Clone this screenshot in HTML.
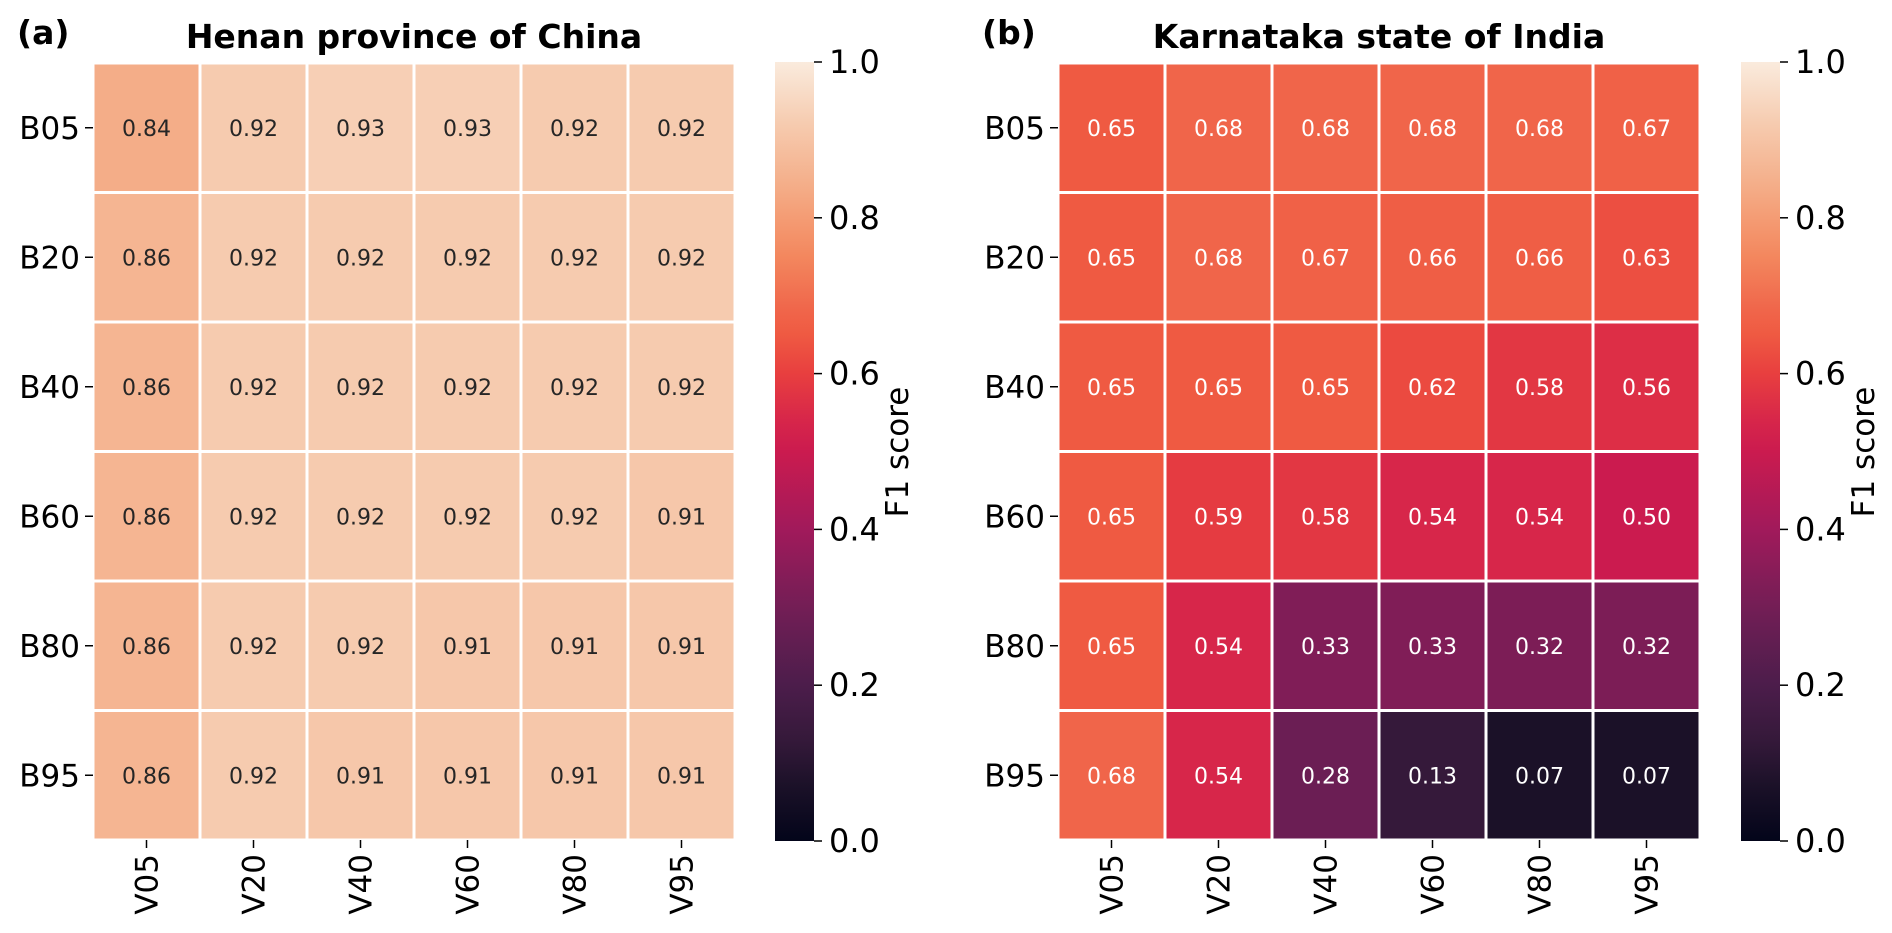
<!DOCTYPE html>
<html><head><meta charset="utf-8"><style>
html,body{margin:0;padding:0;background:#fff;}
svg{display:block;font-family:"DejaVu Sans","Liberation Sans",sans-serif;}
</style></head><body>
<svg id="fig" width="1892" height="933" viewBox="0 0 1892 933" xmlns="http://www.w3.org/2000/svg">
<defs>
<linearGradient id="rocket" x1="0" y1="1" x2="0" y2="0"></linearGradient>
</defs>
</svg>
<script>
const rows = ['B05','B20','B40','B60','B80','B95'];
const cols = ['V05','V20','V40','V60','V80','V95'];
const henanValues = [
 [0.84,0.92,0.93,0.93,0.92,0.92],
 [0.86,0.92,0.92,0.92,0.92,0.92],
 [0.86,0.92,0.92,0.92,0.92,0.92],
 [0.86,0.92,0.92,0.92,0.92,0.91],
 [0.86,0.92,0.92,0.91,0.91,0.91],
 [0.86,0.92,0.91,0.91,0.91,0.91]
];
const karnatakaValues = [
 [0.65,0.68,0.68,0.68,0.68,0.67],
 [0.65,0.68,0.67,0.66,0.66,0.63],
 [0.65,0.65,0.65,0.62,0.58,0.56],
 [0.65,0.59,0.58,0.54,0.54,0.50],
 [0.65,0.54,0.33,0.33,0.32,0.32],
 [0.68,0.54,0.28,0.13,0.07,0.07]
];
const colorbarTicks = [0.0,0.2,0.4,0.6,0.8,1.0];
const cmapStops = [[0,'#03051A'],[0.07,'#1B1128'],[0.13,'#35193A'],[0.2,'#4C1D4B'],[0.28,'#6B1E54'],[0.33,'#801D57'],[0.4,'#A11A5B'],[0.5,'#CB1B4F'],[0.54,'#D7264A'],[0.6,'#E83F3F'],[0.65,'#EF5A42'],[0.68,'#F0654A'],[0.75,'#F3875E'],[0.8,'#F49C74'],[0.84,'#F4AD88'],[0.92,'#F6CBAF'],[1,'#FAEBDD']];

function hex2rgb(h){return [1,3,5].map(i=>parseInt(h.substr(i,2),16));}
function cmap(v){
  for(let i=1;i<cmapStops.length;i++){
    if(v<=cmapStops[i][0]){
      const [a,ca]=cmapStops[i-1],[b,cb]=cmapStops[i];
      const t=(v-a)/(b-a),A=hex2rgb(ca),B=hex2rgb(cb);
      return 'rgb('+A.map((x,k)=>Math.round(x+(B[k]-x)*t)).join(',')+')';
    }
  }
  return cmapStops[cmapStops.length-1][1];
}
const NS='http://www.w3.org/2000/svg';
const svg=document.getElementById('fig');
function el(tag,attrs,parent){const e=document.createElementNS(NS,tag);for(const k in attrs)e.setAttribute(k,attrs[k]);(parent||svg).appendChild(e);return e;}
const grad=document.getElementById('rocket');
cmapStops.forEach(s=>el('stop',{offset:s[0],'stop-color':s[1]},grad));

const topY=63,bottomY=840,ph=bottomY-topY;
function panel(x0,values,letter,title,cbx,key){
  const x1=x0+642, cw=(x1-x0)/cols.length, ch=ph/rows.length;
  const g=el('g',{});
  
  
  values.forEach((row,r)=>row.forEach((v,c)=>{
    const rc=el('rect',{x:x0+c*cw+1.5,y:topY+r*ch+1.5,width:cw-3,height:ch-3,fill:cmap(v)},g);
    
    
    const t=el('text',{x:x0+(c+0.5)*cw,y:topY+(r+0.5)*ch+8,'text-anchor':'middle','font-size':22,fill:v>=0.8?'#262626':'#ffffff'},g);
    t.textContent=v.toFixed(2);
    
    
  }));
  rows.forEach((lab,r)=>{
    const y=topY+(r+0.5)*ch;
    el('line',{x1:x0-8,x2:x0,y1:y,y2:y,stroke:'#000','stroke-width':1.5},g);
    const t=el('text',{x:x0-13,y:y+11,'text-anchor':'end','font-size':31},g);
    t.textContent=lab;
    
    
  });
  cols.forEach((lab,c)=>{
    const x=x0+(c+0.5)*cw;
    el('line',{x1:x,x2:x,y1:bottomY,y2:bottomY+8,stroke:'#000','stroke-width':1.5},g);
    const t=el('text',{x:0,y:0,'text-anchor':'end','font-size':31,transform:'translate('+(x+11)+','+(bottomY+14)+') rotate(-90)'},g);
    t.textContent=lab;
    
    
  });
  const tt=el('text',{x:(x0+x1)/2,y:48,'text-anchor':'middle','font-size':33,'font-weight':'bold'});
  tt.textContent=title;
  
  
  const lt=el('text',{x:x0-76,y:44,'font-size':33,'font-weight':'bold'});
  lt.textContent=letter;
  
  
  const cb=el('rect',{x:cbx,y:62,width:39,height:779,fill:'url(#rocket)'});
  
  
  colorbarTicks.forEach(v=>{
    const y=841-v*779;
    el('line',{x1:cbx+39,x2:cbx+47,y1:y,y2:y,stroke:'#000','stroke-width':1.5});
    const t=el('text',{x:cbx+54,y:y+11,'font-size':32},svg);
    t.textContent=v.toFixed(1);
    
    
  });
  const cl=el('text',{x:0,y:0,'text-anchor':'middle','font-size':31,transform:'translate('+(cbx+133)+',452) rotate(-90)'});
  cl.textContent='F1 score';
  
  
}
panel(93,henanValues,'(a)','Henan province of China',775,'henan');
panel(1058,karnatakaValues,'(b)','Karnataka state of India',1741,'karnataka');
</script>
</body></html>
